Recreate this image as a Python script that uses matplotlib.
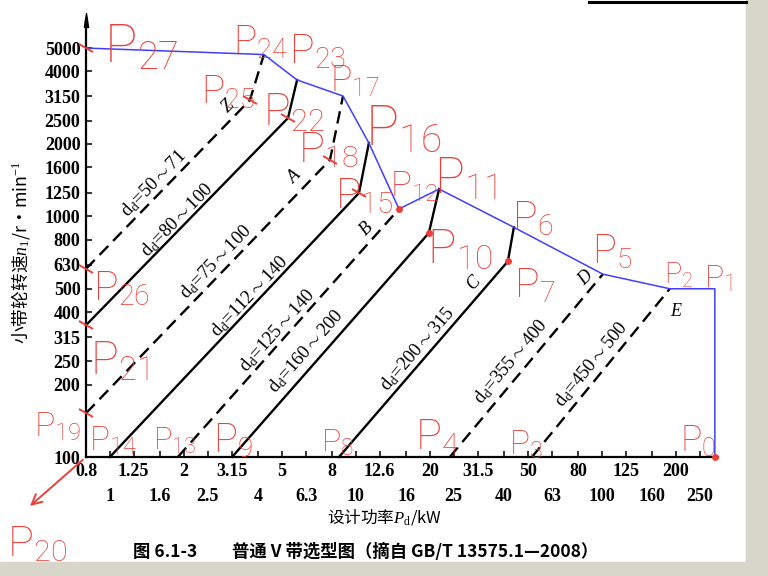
import matplotlib
matplotlib.use('Agg')
import math
import matplotlib.pyplot as plt
from matplotlib.lines import Line2D
from matplotlib.patches import Rectangle
from matplotlib.markers import MarkerStyle
from matplotlib.transforms import Affine2D
from matplotlib.ticker import NullLocator

plt.rcParams['mathtext.fontset'] = 'custom'
plt.rcParams['mathtext.rm'] = 'Liberation Serif'
plt.rcParams['mathtext.it'] = 'Liberation Serif:italic'
plt.rcParams['mathtext.bf'] = 'Liberation Serif:bold'
plt.rcParams['lines.scale_dashes'] = False

# ---------------- data ----------------
x_row1 = [0.8, 1.25, 2, 3.15, 5, 8, 12.5, 20, 31.5, 50, 80, 125, 200]
x_row1_labels = ["0.8", "1.25", "2", "3.15", "5", "8", "12.6", "20", "31.5", "50", "80", "125", "200"]
x_row2 = [1, 1.6, 2.5, 4, 6.3, 10, 16, 25, 40, 63, 100, 160, 250]
x_row2_labels = ["1", "1.6", "2.5", "4", "6.3", "10", "16", "25", "40", "63", "100", "160", "250"]
y_ticks = [100, 200, 250, 315, 400, 500, 630, 800, 1000, 1250, 1600, 2000, 2500, 3150, 4000, 5000]

# belt selection lines: design power P_d (kW), small pulley speed n1 (r/min)
z_dash_P = [0.8, 3.71, 4.23]
z_dash_n = [605, 3040, 4700]
z_solid_P = [0.8, 5.30, 5.77]
z_solid_n = [353, 2560, 3685]
a_dash_P = [0.8, 7.85, 8.87]
a_dash_n = [152, 1714, 3160]
a_solid_P = [1.0, 10.3, 11.3]
a_solid_n = [100, 1250, 2016]
b_dash_P = [1.89, 14.98]
b_dash_n = [100, 1073]
b_solid_P = [3.14, 19.8, 21.8]
b_solid_n = [100, 852, 1298]
c_solid_P = [8.54, 41.5, 43.9]
c_solid_n = [100, 650, 900]
d_dash_P = [24.1, 101]
d_dash_n = [100, 575]
e_dash_P = [52, 189]
e_dash_n = [100, 500]

boundary_P = [0.8, 4.23, 5.77, 8.87, 11.3, 14.98, 21.8, 43.9, 101, 189, 288, 288]
boundary_n = [5000, 4700, 3685, 3160, 2016, 1073, 1298, 900, 575, 500, 500, 100]

dd_ranges = ["50~71", "80~100", "75~100", "112~140", "125~140",
             "160~200", "200~315", "355~400", "450~500"]
belt_types = ["Z", "A", "B", "C", "D", "E"]

# ---------------- figure ----------------
W, H = 768, 576
RED = '#e8403a'
BLUE = '#3f3fff'
GRAY = '#d8d5ca'
fig = plt.figure(figsize=(W / 100, H / 100), dpi=100)
fig.patch.set_facecolor('white')


def fx(px):
    return px / W


def fy(py):
    return 1 - py / H


ax = fig.add_axes([fx(86), fy(457), (718 - 86) / W, (457 - 20) / H])
ax.set_xscale('log')
ax.set_yscale('log')
ax.set_xlim(0.8, 296.7)
ax.set_ylim(100, 6540)
ax.patch.set_alpha(0)

for s in ['top', 'right']:
    ax.spines[s].set_visible(False)
for s in ['left', 'bottom']:
    ax.spines[s].set_linewidth(1.6)
    ax.spines[s].set_color('black')

serif = 'Liberation Serif'
ax.set_xticks(x_row1, x_row1_labels)
ax.set_xticks(x_row2, x_row2_labels, minor=True)
ax.set_yticks(y_ticks, [str(v) for v in y_ticks])
ax.yaxis.set_minor_locator(NullLocator())
ax.tick_params(axis='x', which='major', direction='in', length=4, width=1.1, pad=4, labelsize=13)
ax.tick_params(axis='x', which='minor', direction='in', length=4, width=1.1, pad=22, labelsize=13)
ax.tick_params(axis='y', which='major', direction='in', length=4, width=1.1, pad=4, labelsize=13)
for lab in ax.get_xticklabels(which='both') + ax.get_yticklabels():
    lab.set_fontfamily(serif)
    lab.set_fontweight('bold')

# y axis arrow
ax.plot([0], [1], marker=[(-0.3, -1), (0, 1), (0.3, -1), (-0.3, -1)], ms=10, color='black',
        transform=ax.transAxes, clip_on=False)

lw = 1.7
dash = (9, 5)
lines = [
    (z_dash_P, z_dash_n, True),
    (z_solid_P, z_solid_n, False),
    (a_dash_P, a_dash_n, True),
    (a_solid_P, a_solid_n, False),
    (b_dash_P, b_dash_n, True),
    (b_solid_P, b_solid_n, False),
    (c_solid_P, c_solid_n, False),
    (d_dash_P, d_dash_n, True),
    (e_dash_P, e_dash_n, True),
]
for P, n, dashed in lines:
    if dashed:
        ax.plot(P, n, color='black', lw=lw, dashes=dash, clip_on=False)
    else:
        ax.plot(P, n, color='black', lw=lw, clip_on=False)

ax.plot(boundary_P, boundary_n, color=BLUE, lw=1.1, clip_on=False, zorder=3)

# d_d labels
dd_pos = [(154, 183), (177, 220), (216, 262), (250, 296), (277, 330),
          (306, 351), (418, 349), (511, 362), (592, 364)]
for (P, n, _), txt, (px, py) in zip(lines, dd_ranges, dd_pos):
    a = ax.transData.transform((P[0], n[0]))
    b = ax.transData.transform((P[1], n[1]))
    ang = math.degrees(math.atan2(b[1] - a[1], b[0] - a[0]))
    lo, hi = txt.split('~')
    fig.text(fx(px), fy(py), r"d$_{\rm d}$=" + lo + r"$\sim$" + hi, fontsize=13.5,
             family=serif, rotation=ang, ha='center', va='center', rotation_mode='anchor')

# belt type letters
type_pos = [(228, 106, 45), (295, 177, 45), (367, 229, 45), (474, 283, 45), (586, 278, 45), (676, 311, 0)]
for t, (px, py, r) in zip(belt_types, type_pos):
    fig.text(fx(px), fy(py), t, fontsize=13, family=serif, style='italic',
             rotation=r, ha='center', va='center')

# axis labels & caption
fig.text(fx(384), fy(517), r"设计功率$P_{\rm d}$/kW", fontsize=12,
         family=['Noto Sans CJK SC'], ha='center', va='center')
fig.text(fx(21), fy(253), r"小带轮转速$n_1$/r·min$^{-1}$", fontsize=12.8,
         family=['Noto Sans CJK SC'], rotation=90, ha='center', va='center')
fig.text(fx(366), fy(552), "图 6.1-3　　普通 V 带选型图（摘自 GB/T 13575.1—2008）", fontsize=12.5,
         family=['Noto Sans CJK SC'], fontweight='bold', ha='center', va='center')

# ---------------- red handwritten annotations ----------------
# (number, left x, top y of "P", baseline y of "P", size factor) in picture pixels
red_labels = [
    ("27", 104, 13, 62, 0.8), ("24", 233, 13, 53, 0.7), ("23", 289, 25, 63, 0.78),
    ("25", 201, 68, 103, 0.8), ("17", 330, 60, 92, 0.8), ("22", 263, 85, 125, 0.8),
    ("18", 298, 123, 162, 0.8), ("16", 365, 95, 145, 0.8), ("15", 335, 170, 208, 0.8),
    ("12", 390, 160, 197, 0.68), ("11", 434, 148, 193, 0.8), ("10", 427, 220, 263, 0.8),
    ("6", 512, 193, 230, 0.8), ("7", 514, 260, 297, 0.8), ("5", 592, 227, 263, 0.8),
    ("2", 664, 258, 284, 0.8), ("1", 704, 258, 287, 0.8), ("0", 680, 420, 452, 0.8),
    ("3", 509, 424, 454, 0.8), ("4", 415, 410, 449, 0.8), ("8", 321, 422, 451, 0.8),
    ("9", 213, 416, 452, 0.8), ("13", 153, 422, 450, 0.8), ("14", 89, 420, 450, 0.8),
    ("19", 34, 402, 436, 0.72), ("21", 90, 333, 375, 0.8), ("26", 93, 263, 300, 0.8),
    ("20", 7, 517, 556, 0.8),
]
for num, left, top, base, k in red_labels:
    h = base - top
    fig.text(fx(left), fy(base), r"P$_{\mathregular{" + num + "}}$", color=RED,
             fontsize=h * k, family='Roboto', fontweight='light',
             ha='left', va='baseline')

# red tick slashes at annotated points
slash = MarkerStyle('_', transform=Affine2D().rotate_deg(-30))
slash_P = [boundary_P[0], z_dash_P[0], z_dash_P[1], z_solid_P[0], z_solid_P[1], a_dash_P[0], a_dash_P[1], a_solid_P[1]]
slash_n = [boundary_n[0], z_dash_n[0], z_dash_n[1], z_solid_n[0], z_solid_n[1], a_dash_n[0], a_dash_n[1], a_solid_n[1]]
ax.plot(slash_P, slash_n, ls='none', marker=slash, ms=12, mew=1.4, color=RED, clip_on=False, zorder=4)

# red dots
dot_P = [b_dash_P[-1], b_solid_P[1], c_solid_P[1], boundary_P[-1]]
dot_n = [b_dash_n[-1], b_solid_n[1], c_solid_n[1], boundary_n[-1]]
ax.plot(dot_P, dot_n, ls='none', marker='o', ms=4, color=RED, clip_on=False, zorder=4)

# arrow pointing to P20
ax.annotate('', xy=(fx(30), fy(506)), xycoords='figure fraction',
            xytext=(0.8, 100), textcoords='data',
            arrowprops=dict(arrowstyle='->', color=RED, lw=1.4, shrinkA=3, shrinkB=0,
                            mutation_scale=18))

# scan frame: gray strips and top edge line
fig.add_artist(Rectangle((fx(746), 0), (W - 746) / W, 1, transform=fig.transFigure,
                         color=GRAY, zorder=0))
fig.add_artist(Rectangle((0, 0), 1, (576 - 562) / H, transform=fig.transFigure,
                         color=GRAY, zorder=0))
fig.add_artist(Line2D([fx(589), fx(746)], [fy(1.5), fy(1.5)], color='black', lw=2.2))

fig.savefig('out.png', dpi=100)
